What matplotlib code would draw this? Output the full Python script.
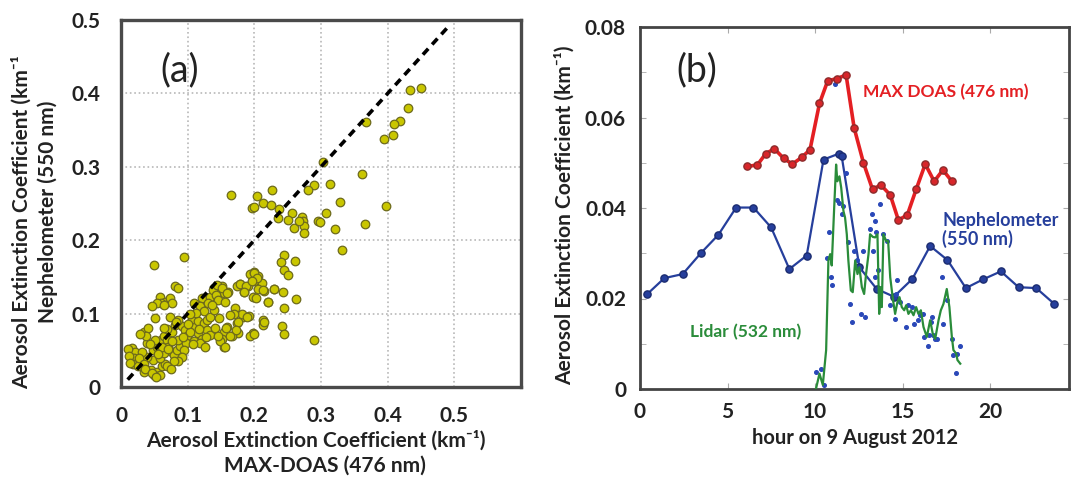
import matplotlib
matplotlib.use("Agg")
import matplotlib.pyplot as plt
import numpy as np

plt.rcParams['font.family'] = ['Lato', 'DejaVu Sans']
plt.rcParams['font.weight'] = 'bold'

W, H = 1073, 483

# ---- panel (a): MAX-DOAS vs nephelometer ----
doas_x = [0.450, 0.434, 0.431, 0.418, 0.410, 0.408, 0.394, 0.368, 0.303, 0.362,
          0.314, 0.290, 0.281, 0.328, 0.397, 0.307, 0.296, 0.299, 0.366, 0.321,
          0.271, 0.273, 0.274, 0.275, 0.332, 0.165, 0.204, 0.227, 0.213, 0.225,
          0.196, 0.199, 0.237, 0.235, 0.257, 0.251, 0.260, 0.267, 0.245, 0.240,
          0.261, 0.245, 0.250, 0.095, 0.230, 0.243, 0.263, 0.220, 0.244, 0.241,
          0.245, 0.290, 0.213, 0.213, 0.194, 0.199, 0.205, 0.211, 0.200, 0.205,
          0.214, 0.198, 0.203, 0.191, 0.179, 0.174, 0.185, 0.183, 0.192, 0.198,
          0.193, 0.154, 0.160, 0.145, 0.151, 0.139, 0.171, 0.181, 0.170, 0.174,
          0.176, 0.166, 0.159, 0.154, 0.151, 0.154, 0.049, 0.081, 0.086, 0.058,
          0.066, 0.074, 0.076, 0.060, 0.054, 0.046, 0.065, 0.051, 0.109, 0.121,
          0.119, 0.124, 0.134, 0.138, 0.144, 0.151, 0.143, 0.146, 0.156, 0.159,
          0.178, 0.188, 0.200, 0.204, 0.196, 0.213, 0.184, 0.230, 0.220, 0.189,
          0.164, 0.176, 0.173, 0.158, 0.163, 0.149, 0.156, 0.199, 0.214, 0.016,
          0.021, 0.019, 0.018, 0.026, 0.034, 0.039, 0.035, 0.041, 0.038, 0.048,
          0.054, 0.048, 0.045, 0.054, 0.058, 0.049, 0.061, 0.066, 0.059, 0.064,
          0.060, 0.064, 0.069, 0.071, 0.076, 0.079, 0.084, 0.089, 0.086, 0.076,
          0.069, 0.081, 0.091, 0.096, 0.099, 0.098, 0.095, 0.076, 0.062, 0.051,
          0.074, 0.064, 0.086, 0.106, 0.111, 0.115, 0.124, 0.129, 0.134, 0.139,
          0.115, 0.104, 0.109, 0.129, 0.134, 0.141, 0.145, 0.121, 0.091, 0.086,
          0.079, 0.069, 0.075, 0.039, 0.031, 0.027, 0.034, 0.036, 0.046, 0.053,
          0.119, 0.126, 0.010, 0.012, 0.014, 0.029, 0.044, 0.101, 0.112, 0.131,
          0.093, 0.071, 0.056, 0.104, 0.117, 0.127, 0.137, 0.147, 0.108, 0.083]
neph_y = [0.407, 0.404, 0.380, 0.362, 0.358, 0.343, 0.338, 0.361, 0.306, 0.290,
          0.276, 0.275, 0.268, 0.252, 0.247, 0.237, 0.226, 0.225, 0.222, 0.215,
          0.232, 0.226, 0.220, 0.210, 0.186, 0.261, 0.260, 0.269, 0.250, 0.248,
          0.244, 0.245, 0.242, 0.230, 0.237, 0.227, 0.216, 0.226, 0.180, 0.170,
          0.172, 0.160, 0.153, 0.177, 0.133, 0.129, 0.120, 0.116, 0.107, 0.083,
          0.072, 0.064, 0.091, 0.085, 0.154, 0.156, 0.151, 0.142, 0.145, 0.133,
          0.131, 0.123, 0.121, 0.137, 0.141, 0.137, 0.130, 0.096, 0.097, 0.073,
          0.070, 0.128, 0.129, 0.138, 0.137, 0.135, 0.107, 0.100, 0.100, 0.087,
          0.074, 0.069, 0.082, 0.075, 0.066, 0.055, 0.166, 0.138, 0.135, 0.122,
          0.116, 0.121, 0.114, 0.115, 0.114, 0.110, 0.112, 0.094, 0.114, 0.121,
          0.110, 0.103, 0.123, 0.132, 0.139, 0.135, 0.126, 0.119, 0.116, 0.128,
          0.141, 0.137, 0.155, 0.148, 0.144, 0.132, 0.130, 0.133, 0.116, 0.096,
          0.098, 0.088, 0.078, 0.080, 0.069, 0.062, 0.055, 0.072, 0.089, 0.053,
          0.048, 0.039, 0.031, 0.028, 0.021, 0.060, 0.075, 0.081, 0.069, 0.050,
          0.054, 0.037, 0.023, 0.021, 0.016, 0.016, 0.028, 0.032, 0.039, 0.046,
          0.064, 0.069, 0.064, 0.055, 0.048, 0.044, 0.050, 0.056, 0.064, 0.075,
          0.079, 0.085, 0.083, 0.078, 0.069, 0.060, 0.050, 0.062, 0.054, 0.064,
          0.096, 0.081, 0.091, 0.091, 0.082, 0.090, 0.087, 0.091, 0.096, 0.105,
          0.073, 0.075, 0.062, 0.078, 0.071, 0.080, 0.069, 0.066, 0.041, 0.035,
          0.035, 0.028, 0.025, 0.041, 0.048, 0.039, 0.031, 0.025, 0.019, 0.013,
          0.060, 0.055, 0.052, 0.042, 0.033, 0.072, 0.058, 0.086, 0.101, 0.115,
          0.068, 0.052, 0.045, 0.100, 0.079, 0.068, 0.112, 0.094, 0.058, 0.088]

one_to_one = [0.01, 0.49]

# ---- panel (b): time series, 9 August 2012 ----
neph_hour = [0.42, 1.39, 2.44, 3.47, 4.48, 5.49, 6.48, 7.49, 8.53, 9.52, 10.48, 11.35,
             11.52, 12.53, 13.52, 14.5, 15.55, 16.57, 17.56, 18.61, 19.58, 20.61, 21.62,
             22.63, 23.66]
neph_val = [0.0210, 0.0245, 0.0254, 0.0300, 0.0341, 0.0401, 0.0401, 0.0357, 0.0265,
            0.0295, 0.0507, 0.0520, 0.0514, 0.0269, 0.0221, 0.0204, 0.0243, 0.0316,
            0.0285, 0.0223, 0.0242, 0.0260, 0.0225, 0.0223, 0.0188]

doas_hour = [6.13, 6.70, 7.18, 7.67, 8.2, 8.70, 9.24, 9.71, 10.25, 10.72, 11.25, 11.77,
             12.23, 12.76, 13.28, 13.75, 14.29, 14.76, 15.27, 15.77, 16.29, 16.8, 17.3,
             17.81]
doas_val = [0.0492, 0.0495, 0.0520, 0.0531, 0.0510, 0.0497, 0.0512, 0.0529, 0.0631,
            0.0681, 0.0686, 0.0694, 0.0577, 0.0500, 0.0441, 0.0451, 0.0429, 0.0373,
            0.0385, 0.0441, 0.0497, 0.0459, 0.0484, 0.0459]

lidar_hour = [10.06, 10.25, 10.44, 10.63, 10.76, 10.86, 10.95, 11.09, 11.2, 11.27, 11.39,
              11.49, 11.62, 11.71, 11.81, 11.9, 12.04, 12.15, 12.29, 12.42, 12.53, 12.67,
              12.8, 12.91, 13.05, 13.14, 13.3, 13.43, 13.56, 13.66, 13.75, 13.81, 13.9,
              14.06, 14.17, 14.29, 14.44, 14.57, 14.7, 14.82, 14.95, 15.09, 15.2, 15.33,
              15.47, 15.62, 15.77, 15.9, 16.04, 16.19, 16.38, 16.57, 16.72, 16.86, 17.05,
              17.18, 17.33, 17.52, 17.67, 17.81, 17.9, 18.06, 18.13, 18.29]
lidar_val = [0.0002, 0.0034, 0.0009, 0.0086, 0.0284, 0.0298, 0.0273, 0.0401, 0.0496,
             0.0459, 0.0470, 0.0445, 0.0393, 0.0379, 0.0342, 0.0284, 0.0218, 0.0214,
             0.0284, 0.0254, 0.0269, 0.0225, 0.0210, 0.0254, 0.0298, 0.0342, 0.0336,
             0.0335, 0.0342, 0.0166, 0.0225, 0.0181, 0.0342, 0.0327, 0.0327, 0.0247,
             0.0199, 0.0166, 0.0192, 0.0203, 0.0181, 0.0174, 0.0185, 0.0166, 0.0174,
             0.0163, 0.0181, 0.0166, 0.0174, 0.0137, 0.0115, 0.0152, 0.0122, 0.0111,
             0.0152, 0.0174, 0.0188, 0.0221, 0.0181, 0.0115, 0.0086, 0.0078, 0.0064,
             0.0056]

dots_hour = [10.06, 10.32, 10.48, 10.82, 10.67, 10.9, 10.95, 11.14, 11.27, 11.39, 11.52,
             11.62, 11.77, 11.9, 12.0, 12.1, 12.23, 12.38, 12.48, 12.63, 12.76, 12.86,
             13.14, 13.24, 13.43, 13.49, 13.3, 13.43, 13.62, 13.71, 13.9, 14.1, 14.29,
             14.57, 14.7, 14.63, 14.86, 15.2, 15.33, 15.52, 15.62, 15.9, 16.19, 16.23,
             16.42, 16.48, 16.0, 16.61, 16.67, 16.86, 16.99, 16.72, 17.24, 17.33, 17.56,
             17.81, 17.9, 18.1, 18.25, 18.06]
dots_val = [0.0038, 0.0045, 0.0009, 0.0348, 0.0289, 0.0247, 0.0229, 0.0675, 0.0417,
            0.0412, 0.0386, 0.0404, 0.0478, 0.0324, 0.0188, 0.0148, 0.0305, 0.0284,
            0.0265, 0.0166, 0.0305, 0.0159, 0.0353, 0.0386, 0.0371, 0.0346, 0.0305,
            0.0247, 0.0262, 0.0408, 0.0342, 0.0327, 0.0185, 0.0155, 0.0240, 0.0210,
            0.0192, 0.0137, 0.0185, 0.0181, 0.0144, 0.0152, 0.0166, 0.0115, 0.0095,
            0.0119, 0.0163, 0.0148, 0.0159, 0.0111, 0.0111, 0.0119, 0.0248, 0.0143,
            0.0196, 0.0111, 0.0075, 0.0078, 0.0095, 0.0035]

txt = '#222222'
red = '#e41f23'
blue = '#263f9c'
green = '#2a8c3a'

fig = plt.figure(figsize=(W / 100, H / 100), dpi=100)


def px(x, y):
    return x / W, 1 - y / H


# panel (a)
ax1 = fig.add_axes([121 / W, 1 - 387 / H, 400 / W, 367 / H])
ax1.scatter(doas_x, neph_y, s=38, color='#c9c600', edgecolor='#6d6a1c', linewidth=0.9, zorder=3)
ax1.plot(one_to_one, one_to_one, color='black', ls=(0, (2.2, 1.6)), lw=2.6, zorder=4)
ax1.set_xlim(0, 0.6)
ax1.set_ylim(0, 0.5)
ax1.set_xticks([0, 0.1, 0.2, 0.3, 0.4, 0.5])
ax1.set_xticklabels(['0', '0.1', '0.2', '0.3', '0.4', '0.5'])
ax1.set_yticks([0, 0.1, 0.2, 0.3, 0.4, 0.5])
ax1.set_yticklabels(['0', '0.1', '0.2', '0.3', '0.4', '0.5'])
ax1.grid(True, color='#b8b8b8', ls=':', lw=1.2)
ax1.tick_params(length=0, labelsize=15, labelcolor=txt)
ax1.tick_params(axis='x', pad=14)
ax1.tick_params(axis='y', pad=15)
for s in ax1.spines.values():
    s.set_color('#4a4a4a')
    s.set_linewidth(2.4)

fig.text(*px(180, 70), '(a)', fontsize=27, fontweight='normal', color=txt, ha='center', va='center')
fig.text(*px(22, 222), 'Aerosol Extinction Coefficient (km⁻¹', rotation=90, fontsize=15,
         color=txt, ha='center', va='center')
fig.text(*px(48, 212), 'Nephelometer (550 nm)', rotation=90, fontsize=15,
         color=txt, ha='center', va='center')
fig.text(*px(316, 440), 'Aerosol Extinction Coefficient (km⁻¹)', fontsize=15,
         color=txt, ha='center', va='center')
fig.text(*px(325, 466), 'MAX-DOAS (476 nm)', fontsize=15, color=txt, ha='center', va='center')

# panel (b)
ax2 = fig.add_axes([640 / W, 1 - 389 / H, 429 / W, 362 / H])
ax2.plot(neph_hour, neph_val, color=blue, lw=1.6, marker='o', ms=5.2,
         mfc=blue, mec='#1b2c70', zorder=3)
ax2.plot(dots_hour, dots_val, ls='none', marker='o', ms=2.6, color='#2a48b8', zorder=4)
ax2.plot(lidar_hour, lidar_val, color=green, lw=1.6, zorder=5)
ax2.plot(doas_hour, doas_val, color=red, lw=2.6, marker='o', ms=5.2,
         mfc='#d8262a', mec='#8c2a2a', zorder=6)
ax2.set_xlim(0, 24.5)
ax2.set_ylim(0, 0.08)
ax2.set_xticks([0, 5, 10, 15, 20])
ax2.set_yticks([0, 0.02, 0.04, 0.06, 0.08])
ax2.set_yticklabels(['0', '0.02', '0.04', '0.06', '0.08'])
ax2.set_yticks(np.arange(0.01, 0.08, 0.02), minor=True)
ax2.tick_params(which='both', direction='in', top=True, right=True, length=4,
                color='#aaaaaa', labelsize=15, labelcolor=txt)
ax2.tick_params(axis='x', pad=9)
ax2.tick_params(axis='y', pad=10)
for s in ax2.spines.values():
    s.set_color('#444444')
    s.set_linewidth(2.0)

ax2.text(12.74, 0.0657, 'MAX DOAS (476 nm)', color=red, fontsize=12.5, va='center', ha='left')
ax2.text(17.26, 0.0352, 'Nephelometer\n(550 nm)', color=blue, fontsize=13, va='center',
         ha='left', linespacing=1.05)
ax2.text(2.86, 0.0125, 'Lidar (532 nm)', color=green, fontsize=12.5, va='center', ha='left')
fig.text(*px(697, 70), '(b)', fontsize=27, fontweight='normal', color=txt, ha='center', va='center')
ax2.set_xlabel('hour on 9 August 2012', fontsize=14.5, fontweight='bold', color=txt, labelpad=5)
fig.text(*px(565, 215), 'Aerosol Extinction Coefficient (km⁻¹)', rotation=90, fontsize=15,
         color=txt, ha='center', va='center')

fig.savefig('out.png', dpi=100)
